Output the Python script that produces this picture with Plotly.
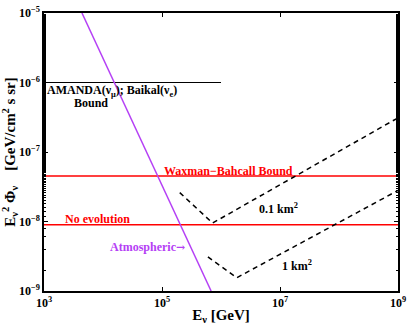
import plotly.graph_objects as go
import numpy as np

# energies in GeV, fluxes in GeV/cm^2 s sr
amanda_E = [1e3, 1e6]
amanda_flux = [1e-6, 1e-6]

wb_E = [1e3, 1e9]
wb_flux = [4.5e-8, 4.5e-8]

noevo_E = [1e3, 1e9]
noevo_flux = [9e-9, 9e-9]

atmo_E = [4.4e3, 6.8e5]
atmo_flux = [1e-5, 1e-9]

km01_E = [2.0e5, 7.2e5, 1e9]
km01_flux = [2.6e-8, 9.5e-9, 3.1e-7]

km1_E = [6.0e5, 1.85e6, 1e9]
km1_flux = [3.1e-9, 1.55e-9, 2.8e-8]

x_ticks = [1e3, 1e5, 1e7, 1e9]
x_labels = ["10<sup>3</sup>", "10<sup>5</sup>", "10<sup>7</sup>", "10<sup>9</sup>"]
y_ticks = [1e-9, 1e-8, 1e-7, 1e-6, 1e-5]
y_labels = ["10<sup>−9</sup>", "10<sup>−8</sup>", "10<sup>−7</sup>", "10<sup>−6</sup>", "10<sup>−5</sup>"]

serif = "Liberation Serif"
red = "#ff0000"
purple = "#b540f5"

fig = go.Figure()
fig.add_trace(go.Scatter(x=amanda_E, y=amanda_flux, mode="lines", line=dict(color="black", width=1.2)))
fig.add_trace(go.Scatter(x=wb_E, y=wb_flux, mode="lines", line=dict(color=red, width=1.5)))
fig.add_trace(go.Scatter(x=noevo_E, y=noevo_flux, mode="lines", line=dict(color=red, width=1.5)))
fig.add_trace(go.Scatter(x=atmo_E, y=atmo_flux, mode="lines", line=dict(color=purple, width=1.5)))
fig.add_trace(go.Scatter(x=km01_E, y=km01_flux, mode="lines", line=dict(color="black", width=1.5, dash="5px,4px")))
fig.add_trace(go.Scatter(x=km1_E, y=km1_flux, mode="lines", line=dict(color="black", width=1.5, dash="5px,4px")))
# invisible trace so the right-hand axis (mirrored minor ticks) gets drawn
fig.add_trace(go.Scatter(x=[1e3], y=[1e-9], mode="lines", yaxis="y2", line=dict(width=0), hoverinfo="skip"))

def label(x, y, text, color="black", anchor="left"):
    fig.add_annotation(x=np.log10(x), y=np.log10(y), text="<b>" + text + "</b>", showarrow=False,
                       xanchor=anchor, yanchor="middle",
                       font=dict(family=serif, size=12, color=color))

label(1.05e3, 7.6e-7, "AMANDA(ν<sub>μ</sub>); Baikal(ν<sub>e</sub>)")
label(3.0e3, 5.0e-7, "Bound")
label(1.0e5, 5.3e-8, "Waxman−Bahcall Bound", red)
label(2.1e3, 1.08e-8, "No evolution", red)
label(1.2e4, 4.3e-9, "Atmospheric<span style='font-family:DejaVu Serif;font-size:11px'>→</span>", purple)
label(4.1e6, 1.55e-8, "0.1 km<sup>2</sup>")
label(1.0e7, 2.3e-9, "1 km<sup>2</sup>")

tfont = dict(family=serif, size=12, color="black")
axis_common = dict(type="log", showgrid=False, zeroline=False, showline=True, linecolor="black",
                   linewidth=1.5, ticks="inside", ticklen=4, tickcolor="black", automargin=False,
                   tickfont=tfont)

fig.update_layout(
    width=408, height=330, showlegend=False, plot_bgcolor="white", paper_bgcolor="white",
    margin=dict(l=44, r=10, t=13, b=39),
    xaxis=dict(range=[3, 9], tickvals=x_ticks, ticktext=["<b>" + t + "</b>" for t in x_labels],
               mirror="ticks",
               title=dict(text="<b>E<sub>ν</sub> [GeV]</b>", font=dict(family=serif, size=15, color="black"),
                          standoff=0),
               **axis_common),
    yaxis=dict(range=[-9, -5], tickvals=y_ticks, ticktext=["<b>" + t + "</b>" for t in y_labels],
               mirror=True,
               minor=dict(ticks="inside", ticklen=2, tickcolor="black", showgrid=False),
               title=dict(text="<b>E<sub>ν</sub><sup>2</sup> Φ<sub>ν</sub>    [GeV/cm<sup>2</sup> s sr]</b>",
                          font=dict(family=serif, size=15, color="black")),
               **axis_common),
    yaxis2=dict(overlaying="y", side="right", range=[-9, -5], tickvals=y_ticks, showticklabels=False,
                minor=dict(ticks="inside", ticklen=2, tickcolor="black", showgrid=False),
                **axis_common),
)

# drop the browser's default page margin so the figure sits at the window corner
fig.write_html("out.html", config={"displayModeBar": False},
               post_script="document.body.style.margin='0';")
